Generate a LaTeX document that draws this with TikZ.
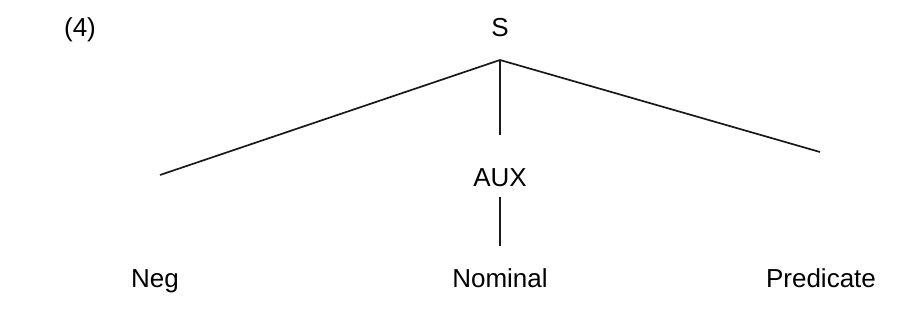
\documentclass[tikz,border=0pt]{standalone}
\usepackage{fontspec}
\setmainfont{Liberation Sans}
\begin{document}
\begin{tikzpicture}[x=1pt,y=-1pt,
  lbl/.style={font=\fontsize{26}{30}\selectfont, inner sep=0pt, anchor=base},
  branch/.style={line width=1.7pt, black!90}]
\useasboundingbox (0,0) rectangle (911,321);
% labels
\node[lbl] (num) at (80,37) {(4)};
\node[lbl] (S) at (500,37) {S};
\node[lbl] (aux) at (500,186) {AUX};
\node[lbl] (neg) at (155,287) {Neg};
\node[lbl] (nom) at (500,287) {Nominal};
\node[lbl] (pred) at (821,287) {Predicate};
% branch points
\coordinate (apex) at (500,60);
\coordinate (lend) at (160,175);
\coordinate (mend) at (500,135);
\coordinate (rend) at (820,152);
% branches
\draw[branch] (lend) -- (apex) -- (rend);
\draw[branch] (apex) -- (mend);
\draw[branch, shorten <=11pt, shorten >=22pt] (aux) -- (nom);
\end{tikzpicture}
\end{document}
